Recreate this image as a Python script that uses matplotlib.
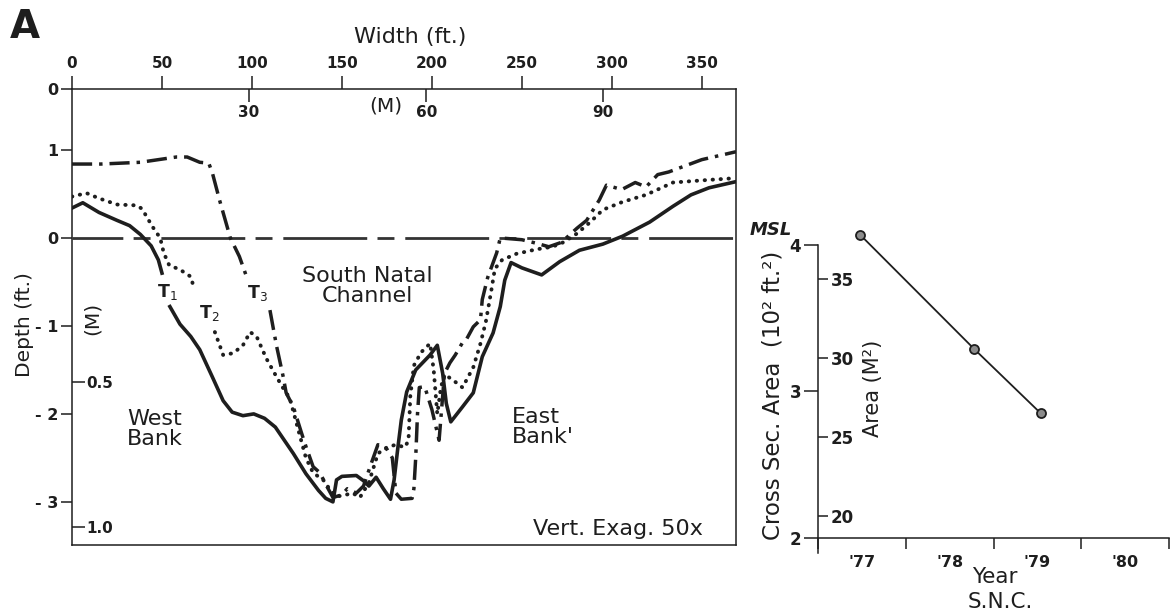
import numpy as np
import matplotlib
matplotlib.use("Agg")
import matplotlib.pyplot as plt

nan = np.nan
FT_PER_M = 3.2808
FT2_PER_M2 = 10.7639

# ── Cross-section profiles: width (ft) vs depth (ft, relative to MSL) ──
t1_width = [0, 6, 15, 25, 32, 38, 44, 48, 50, nan, 54.4, 60, 66, 71, 78, 84, 89, 95, 101, 107,
            113, 118, 123, 130, 137, 141, 145, 147, 150, 158, 162, 165, 169, 173, 177, 179, 181, 183, 186, 191,
            199, 203, 206, 208, 210.5, 217, 223, 228, 234, 238, 240.5, 244, 250, 261, 271, 282, 295, 306, 321, 334,
            344, 354, 369]
t1_depth = [0.34, 0.40, 0.29, 0.20, 0.14, 0.04, -0.09, -0.25, -0.40, nan, -0.78, -0.98, -1.12, -1.27, -1.58, -1.85, -1.98, -2.02, -2.00, -2.05,
            -2.15, -2.30, -2.45, -2.68, -2.87, -2.96, -3.00, -2.75, -2.71, -2.70, -2.76, -2.82, -2.72, -2.85, -2.97, -2.75, -2.40, -2.07, -1.75, -1.50,
            -1.33, -1.22, -1.54, -1.88, -2.09, -1.92, -1.76, -1.35, -1.08, -0.78, -0.48, -0.28, -0.34, -0.42, -0.27, -0.14, -0.07, 0.02, 0.18, 0.36,
            0.49, 0.57, 0.64]

t2_width = [0, 8, 15, 25, 36, 39, 41.5, 45, 49, 51, 54, 60, 66, 67.5, nan, 79.4, 81, 84, 89.6, 95,
            99, 102.6, 108, 113.7, 118, 121, 126, 130, 134, 139.6, 143, 147, 152, 156, 160, 165, 170, 175, 180, 185,
            187, 188, 190, 194, 199, 201, 203, 205, 207, 212, 217, 223, 227, 230, 233, 235, 239, 247, 258, 267,
            273, 280.6, 288, 295, 306, 319, 334, 354, 369]
t2_depth = [0.47, 0.51, 0.45, 0.38, 0.37, 0.33, 0.24, 0.12, 0.0, -0.17, -0.31, -0.36, -0.44, -0.55, nan, -1.07, -1.16, -1.33, -1.31, -1.22,
            -1.07, -1.12, -1.37, -1.58, -1.73, -1.82, -2.20, -2.50, -2.67, -2.75, -2.85, -2.94, -2.92, -2.90, -2.95, -2.78, -2.45, -2.38, -2.35, -2.38,
            -2.30, -1.80, -1.45, -1.30, -1.20, -1.50, -2.00, -1.70, -1.55, -1.62, -1.70, -1.47, -1.20, -0.95, -0.60, -0.35, -0.25, -0.18, -0.13, -0.10,
            -0.05, 0.05, 0.18, 0.32, 0.41, 0.49, 0.63, 0.66, 0.68]

t3_width = [0, 16, 38, 58, 64, 71, 76, 78, 82, 88, 93, 97, nan, 110, 111.7, 113.7, 117.4, 119, 123, 127.6,
            130, 134, 137.8, 141, 145, 150, 153, 158, 162, 166, 170, 175, 178, 180, 183, 189, 190, 191, 192, 193,
            196, 200, 204, 207, 210, 213, 217, 219, 223, 227, 228, 231, 236, 238, 250, 258, 265, 272, 280.6, 286,
            293, 297, 305.5, 313, 319, 325.5, 331.6, 350, 369]
t3_depth = [0.84, 0.84, 0.86, 0.92, 0.92, 0.86, 0.85, 0.74, 0.43, 0.0, -0.21, -0.44, nan, -0.82, -1.01, -1.23, -1.58, -1.76, -1.92, -2.22,
            -2.37, -2.60, -2.67, -2.80, -2.95, -2.92, -2.85, -2.90, -2.82, -2.58, -2.35, -2.40, -2.50, -2.90, -2.97, -2.96, -2.85, -2.50, -2.00, -1.70,
            -1.69, -1.95, -2.30, -1.54, -1.42, -1.33, -1.19, -1.16, -1.01, -0.93, -0.70, -0.45, -0.17, 0.0, -0.02, -0.06, -0.10, -0.05, 0.11, 0.20,
            0.43, 0.60, 0.55, 0.63, 0.58, 0.72, 0.75, 0.89, 0.98]

width_ticks = [0, 50, 100, 150, 200, 250, 300, 350]
width_m_ticks = [30, 60, 90]
depth_ticks = [1, 0, -1, -2, -3]
depth_labels = ["1", "0", "- 1", "- 2", "- 3"]
depth_m_ticks = [0.5, 1.0]

# ── Cross-sectional area, S.N.C. (10^2 ft^2) ──
area_year = [1977.48, 1978.78, 1979.54]
area_ft2 = [4.07, 3.29, 2.85]
year_edges = [1977, 1978, 1979, 1980, 1981]
year_labels = ["'77", "'78", "'79", "'80"]
area_ticks = [2, 3, 4]
area_m2_ticks = [20, 25, 30, 35]

W, H = 1171, 615
INK = "#1e1e1e"
plt.rcParams["font.family"] = ["DejaVu Sans"]
plt.rcParams["text.color"] = INK
plt.rcParams["axes.edgecolor"] = INK
plt.rcParams["xtick.color"] = INK
plt.rcParams["ytick.color"] = INK


def fpos(x, y):
    """pixel position -> figure fraction"""
    return x / W, 1 - y / H


fig = plt.figure(figsize=(W / 100, H / 100), dpi=100)

# ── Main cross-section panel ─────────────────────────────────────
ax = fig.add_axes([72 / W, 1 - 545 / H, 664 / W, 456 / H])
x_max = 369
y_top, y_bot = 1.693, -3.49
ax.set_xlim(0, x_max)
ax.set_ylim(y_bot, y_top)

ax.plot([0, x_max], [0, 0], color="#333333", lw=2.0, dash_capstyle="butt",
        linestyle=(11.9, (30.2, 3.7, 6.1, 3.9)))
ax.plot(t1_width, t1_depth, color=INK, lw=2.6, solid_joinstyle="round")
ax.plot(t2_width, t2_depth, color=INK, lw=2.8, linestyle=(0, (0.1, 1.95)),
        dash_capstyle="round")
ax.plot(t3_width, t3_depth, color=INK, lw=2.5, linestyle=(0, (5.8, 2.0, 1.0, 2.0)),
        dash_capstyle="butt")

for s in ax.spines.values():
    s.set_linewidth(1.1)

ax.tick_params(axis="x", bottom=False, labelbottom=False, top=True, labeltop=True,
               length=9.5, width=1.1, pad=3.5, labelsize=11)
ax.set_xticks(width_ticks, labels=[str(v) for v in width_ticks], fontweight="bold")
ax.set_yticks([y_top] + depth_ticks, labels=["0"] + depth_labels, fontweight="bold")
ax.tick_params(axis="y", length=8, width=1.1, pad=2, labelsize=11.5)

sec_x = ax.secondary_xaxis(1.0, functions=(lambda x: x / FT_PER_M, lambda m: m * FT_PER_M))
sec_x.set_alignment("bottom")
sec_x.spines["bottom"].set_visible(False)
sec_x.set_ticks(width_m_ticks, labels=[str(v) for v in width_m_ticks], fontweight="bold")
sec_x.tick_params(length=9.5, width=1.1, pad=2, labelsize=11)

sec_y = ax.secondary_yaxis(0.0, functions=(lambda d: -d / FT_PER_M, lambda m: -m * FT_PER_M))
sec_y.set_alignment("right")
sec_y.spines["right"].set_visible(False)
sec_y.set_ticks(depth_m_ticks, labels=["0.5", "1.0"], fontweight="bold")
sec_y.tick_params(length=9, width=1.1, pad=1.5, labelsize=11)

fig.text(*fpos(25, 27), "A", fontsize=28, fontweight="bold", ha="center", va="center")
fig.text(*fpos(410, 37), "Width (ft.)", fontsize=16, ha="center", va="center")
fig.text(*fpos(386, 106), "(M)", fontsize=14.5, ha="center", va="center")
fig.text(*fpos(24, 325), "Depth (ft.)", fontsize=14.5, rotation=90, ha="center", va="center")
fig.text(*fpos(92, 318), "(M)", fontsize=14.5, rotation=90, ha="center", va="center")
fig.text(*fpos(167, 292), "T$_1$", fontsize=12.5, fontweight="bold", ha="center", va="center")
fig.text(*fpos(209, 313), "T$_2$", fontsize=12.5, fontweight="bold", ha="center", va="center")
fig.text(*fpos(257, 293), "T$_3$", fontsize=12.5, fontweight="bold", ha="center", va="center")
fig.text(*fpos(367, 286), "South Natal\nChannel", fontsize=16, ha="center", va="center",
         linespacing=1.0)
fig.text(*fpos(155, 429), "West\nBank", fontsize=16, ha="center", va="center", linespacing=1.0)
fig.text(*fpos(512, 427), "East\nBank'", fontsize=16, ha="left", va="center", linespacing=1.0)
fig.text(*fpos(618, 529), "Vert. Exag. 50x", fontsize=16, ha="center", va="center")
fig.text(*fpos(750, 230), "MSL", fontsize=13, fontweight="bold", fontstyle="italic",
         ha="left", va="center")

# ── Cross-sectional area panel ───────────────────────────────────
ax2 = fig.add_axes([818 / W, 1 - 552.6 / H, 351 / W, 336.9 / H])
ax2.set_xlim(year_edges[0], year_edges[-1])
ax2.set_ylim(1.9, 4.2)
ax2.plot(area_year, area_ft2, color=INK, lw=1.3, marker="o", ms=6.5,
         mfc="#8c8c8c", mec=INK, mew=1.3)

for side in ("top", "right"):
    ax2.spines[side].set_visible(False)
ax2.spines["left"].set_bounds(1.9, 4.0)
ax2.spines["bottom"].set_position(("data", 2.0))
ax2.spines["left"].set_linewidth(1.1)
ax2.spines["bottom"].set_linewidth(1.1)

ax2.set_yticks(area_ticks, labels=[str(v) for v in area_ticks], fontweight="bold")
ax2.tick_params(axis="y", length=10, width=1.1, pad=2, labelsize=12)
ax2.set_xticks(year_edges, labels=[""] * len(year_edges))
ax2.set_xticks([y + 0.5 for y in year_edges[:-1]], labels=year_labels, minor=True,
               fontweight="bold")
ax2.tick_params(axis="x", which="major", length=8, width=1.1)
ax2.tick_params(axis="x", which="minor", length=0, pad=12, labelsize=11.5)

sec_a = ax2.secondary_yaxis(0.0, functions=(lambda a: a * 100 / FT2_PER_M2,
                                            lambda m: m * FT2_PER_M2 / 100))
sec_a.set_alignment("right")
sec_a.spines["right"].set_visible(False)
sec_a.set_ticks(area_m2_ticks, labels=[str(v) for v in area_m2_ticks], fontweight="bold")
sec_a.tick_params(length=7.5, width=1.1, pad=1.5, labelsize=12)

fig.text(*fpos(773, 395), "Cross Sec. Area  (10² ft.²)", fontsize=16.5, rotation=90,
         ha="center", va="center")
fig.text(*fpos(873, 388), "Area (M²)", fontsize=15, rotation=90, ha="center", va="center")
fig.text(*fpos(995, 577), "Year", fontsize=15.5, ha="center", va="center")
fig.text(*fpos(1000, 602), "S.N.C.", fontsize=15.5, ha="center", va="center")

fig.savefig("out.png", dpi=100)
